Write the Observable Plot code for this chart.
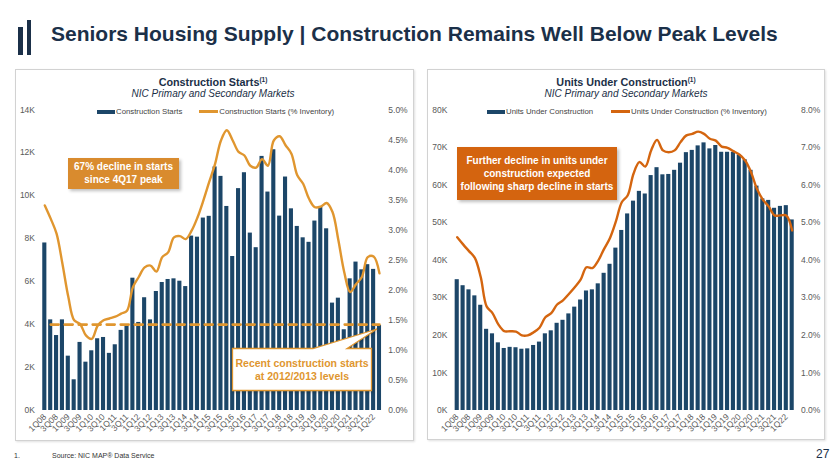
<!DOCTYPE html>
<html>
<head>
<meta charset="utf-8">
<script src="https://cdn.jsdelivr.net/npm/d3@7"></script>
<script src="https://cdn.jsdelivr.net/npm/@observablehq/plot@0.6"></script>
<style>
  html, body { margin: 0; padding: 0; background: #fff; }
  body { font-family: "Liberation Sans", Arial, sans-serif; }
  #page { position: relative; width: 840px; height: 473px; overflow: hidden; background: #fff; }
  .abs { position: absolute; }
  .panel { position: absolute; border: 1px solid #d2d2d2; box-shadow: 1px 1px 2px rgba(0,0,0,0.12); background: #fff; }
  .ctitle { position: absolute; text-align: center; color: #1b2f47; font-weight: bold; font-size: 10.8px; white-space: nowrap; }
  .ctitle sup { font-size: 6.5px; vertical-align: 4px; }
  .csub { position: absolute; text-align: center; color: #1b2f47; font-style: italic; font-size: 10px; white-space: nowrap; }
  .leg { position: absolute; font-size: 7.8px; color: #444; white-space: nowrap; display: flex; align-items: center; }
  .sw-bar { display: inline-block; width: 18px; height: 4px; margin-right: 1px; }
  .sw-line { display: inline-block; width: 19px; height: 2.5px; margin-right: 1px; }
  .box { position: absolute; display: flex; align-items: center; justify-content: center; text-align: center; font-weight: bold; font-size: 10px; line-height: 12.5px; color: #fff; box-shadow: 2px 2px 3px rgba(0,0,0,0.25); }
</style>
</head>
<body>
<div id="page">
  <div class="abs" style="left:18px;top:27px;width:5px;height:28px;background:#1b3049"></div>
  <div class="abs" style="left:26.5px;top:20px;width:4.5px;height:35px;background:#1b3049"></div>
  <div class="abs" style="left:51px;top:22px;font-size:21px;font-weight:bold;color:#1b3049;white-space:nowrap;">Seniors Housing Supply | Construction Remains Well Below Peak Levels</div>

  <div class="panel" style="left:15px;top:69px;width:397px;height:370px;"></div>
  <div class="panel" style="left:427px;top:69px;width:396px;height:369px;"></div>

  <div class="ctitle" style="left:113px;width:200px;top:76px;">Construction Starts<sup>(1)</sup></div>
  <div class="csub" style="left:113px;width:200px;top:88px;">NIC Primary and Secondary Markets</div>
  <div class="leg" style="left:97px;top:107px;"><span class="sw-bar" style="background:#1c4668"></span>Construction Starts<span style="width:17px;display:inline-block"></span><span class="sw-line" style="background:#e0962f"></span>Construction Starts (% Inventory)</div>

  <div class="ctitle" style="left:526px;width:200px;top:76px;">Units Under Construction<sup>(1)</sup></div>
  <div class="csub" style="left:526px;width:200px;top:88px;">NIC Primary and Secondary Markets</div>
  <div class="leg" style="left:487px;top:107px;"><span class="sw-bar" style="background:#1c4668"></span>Units Under Construction<span style="width:18px;display:inline-block"></span><span class="sw-line" style="background:#d4650f"></span>Units Under Construction (% Inventory)</div>

  <div id="left" class="abs" style="left:15px;top:100px;"></div>
  <div id="right" class="abs" style="left:427px;top:100px;"></div>

  <div class="box" style="left:68px;top:158px;width:111px;height:31px;background:#d98b2e;">67% decline in starts<br>since 4Q17 peak</div>
  <div class="box" style="left:457px;top:147px;width:160px;height:53px;background:#d4640f;line-height:13px;">Further decline in units under<br>construction expected<br>following sharp decline in starts</div>

  <svg class="abs" style="left:0;top:0;" width="840" height="473">
    <path d="M232.5,348.5 L313,348.5 L377,329 L347,348.5 L371.5,348.5 L371.5,390.5 L232.5,390.5 Z" fill="#fff" stroke="#e0962f" stroke-width="1.3" style="filter: drop-shadow(1.5px 1.5px 1.5px rgba(0,0,0,0.25));"/>
  </svg>
  <div class="abs" style="left:232px;top:350px;width:140px;height:40px;display:flex;align-items:center;justify-content:center;text-align:center;font-weight:bold;font-size:10.5px;line-height:13.5px;color:#e0962f;">Recent construction starts<br>at 2012/2013 levels</div>

  <div class="abs" style="left:14px;top:452px;font-size:7px;color:#333;">1.</div>
  <div class="abs" style="left:52px;top:452px;font-size:7px;color:#333;">Source: NIC MAP® Data Service</div>
  <div class="abs" style="left:816px;top:447px;font-size:12px;color:#1b3049;">27</div>
</div>

<script>
// ---------- data ----------
const quarters = ["1Q08","2Q08","3Q08","4Q08","1Q09","2Q09","3Q09","4Q09","1Q10","2Q10","3Q10","4Q10",
  "1Q11","2Q11","3Q11","4Q11","1Q12","2Q12","3Q12","4Q12","1Q13","2Q13","3Q13","4Q13",
  "1Q14","2Q14","3Q14","4Q14","1Q15","2Q15","3Q15","4Q15","1Q16","2Q16","3Q16","4Q16",
  "1Q17","2Q17","3Q17","4Q17","1Q18","2Q18","3Q18","4Q18","1Q19","2Q19","3Q19","4Q19",
  "1Q20","2Q20","3Q20","4Q20","1Q21","2Q21","3Q21","4Q21","1Q22","2Q22"];

const tickLabels = ["1Q08","3Q08","1Q09","3Q09","1Q10","3Q10","1Q11","3Q11","1Q12","3Q12","1Q13","3Q13",
  "1Q14","3Q14","1Q15","3Q15","1Q16","3Q16","1Q17","3Q17","1Q18","3Q18","1Q19","3Q19","1Q20","3Q20",
  "1Q21","3Q21","1Q22"];

const starts = [7800,4220,3490,4220,2530,1430,3170,2250,2780,3340,3400,2660,3060,3730,3930,6160,4100,5250,4220,5540,
  5960,6100,6130,6020,5770,8120,8070,8960,9040,11340,10900,9500,7170,10330,11070,8260,7580,11830,10170,12140,
  9050,10870,9390,8570,8040,7830,8820,9500,8460,5000,5230,3760,6130,6910,6550,6790,6570,3960];

const startsPct = [3.41,3.19,2.94,2.44,1.89,1.50,1.44,1.25,1.19,1.41,1.50,1.53,1.56,1.61,1.66,2.05,2.22,2.38,2.41,2.31,
  2.55,2.63,2.88,2.90,2.85,2.99,3.21,3.49,3.80,4.10,4.49,4.66,4.49,4.30,4.24,4.07,4.04,4.18,4.07,4.49,
  4.56,4.41,4.27,3.91,3.77,3.52,3.38,3.39,3.45,3.30,2.83,2.30,1.97,2.10,2.22,2.55,2.56,2.28];

const units = [34800,33200,32100,30500,28000,21600,20400,18000,16500,16800,16700,16300,16400,17300,18200,20400,21200,23200,24000,25700,
  27500,29400,31800,32100,33700,36500,38900,43200,47900,52300,55700,58300,57600,62500,64600,62700,62800,63900,65800,68600,
  69200,70400,71200,69600,70500,68700,68700,68700,68000,66700,63900,59700,56300,55900,53800,54300,54500,50700];

const unitsPct = [4.61,4.42,4.24,4.06,3.55,2.77,2.59,2.29,2.11,2.11,2.10,2.00,2.00,2.08,2.20,2.48,2.59,2.82,2.93,3.10,
  3.28,3.48,3.81,3.79,3.99,4.30,4.59,5.03,5.54,5.72,6.30,6.61,6.49,6.92,7.20,6.92,6.87,6.92,7.14,7.32,
  7.36,7.42,7.36,7.23,7.18,7.02,6.99,6.90,6.81,6.65,6.34,5.90,5.61,5.43,5.19,5.19,5.19,4.79];

const startsTicks = [0,2000,4000,6000,8000,10000,12000,14000];
const startsPctTicks = [0,0.5,1.0,1.5,2.0,2.5,3.0,3.5,4.0,4.5,5.0];
const unitsTicks = [0,10000,20000,30000,40000,50000,60000,70000,80000];
const unitsPctTicks = [0,1,2,3,4,5,6,7,8];

const refLevel = 4000;          // 2012/2013 level of starts
const refFrom = "2Q08", refTo = "2Q22";

// ---------- chart builder ----------
function dualChart({bars, pct, leftTicks, rightTicks, lineColor, ml, mr, width, ref}) {
  const leftMax = leftTicks[leftTicks.length - 1];
  const rightMax = rightTicks[rightTicks.length - 1];
  const k = leftMax / rightMax;
  const rows = quarters.map((q, i) => ({q, v: bars[i], p: pct[i] * k}));
  const marks = [
    Plot.barY(rows, {x: "q", y: "v", fill: "#1c4668"}),
    Plot.line(rows, {x: "q", y: "p", stroke: lineColor, strokeWidth: 2.4, curve: "catmull-rom"}),
    Plot.axisY(leftTicks, {anchor: "left", tickSize: 0, tickPadding: 6, fontSize: 8.5, color: "#595959",
      tickFormat: d => (d / 1000) + "K"}),
    Plot.axisY(rightTicks.map(t => t * k), {anchor: "right", tickSize: 0, tickPadding: 5, fontSize: 8.5, color: "#595959",
      tickFormat: d => (d / k).toFixed(1) + "%"}),
    Plot.axisX(tickLabels, {tickRotate: -45, tickSize: 0, tickPadding: 5, fontSize: 8.5, color: "#595959"})
  ];
  if (ref) {
    marks.push(Plot.line([{q: ref.from, v: ref.level}, {q: ref.to, v: ref.level}],
      {x: "q", y: "v", stroke: "#e0962f", strokeWidth: 2.6, strokeDasharray: "8,6"}));
  }
  return Plot.plot({
    width, height: 345,
    marginTop: 9.3, marginBottom: 35, marginLeft: ml, marginRight: mr,
    style: {background: "transparent", overflow: "visible", fontFamily: "Liberation Sans, Arial, sans-serif"},
    x: {type: "band", domain: quarters, padding: 0.3, label: null},
    y: {domain: [0, leftMax], label: null},
    marks
  });
}

document.getElementById("left").append(dualChart({
  bars: starts, pct: startsPct, leftTicks: startsTicks, rightTicks: startsPctTicks,
  lineColor: "#e0962f", ml: 25.5, mr: 30.2, width: 398,
  ref: {level: refLevel, from: refFrom, to: refTo}
}));
document.getElementById("right").append(dualChart({
  bars: units, pct: unitsPct, leftTicks: unitsTicks, rightTicks: unitsPctTicks,
  lineColor: "#d4650f", ml: 25.9, mr: 28.5, width: 397
}));
</script>
</body>
</html>
